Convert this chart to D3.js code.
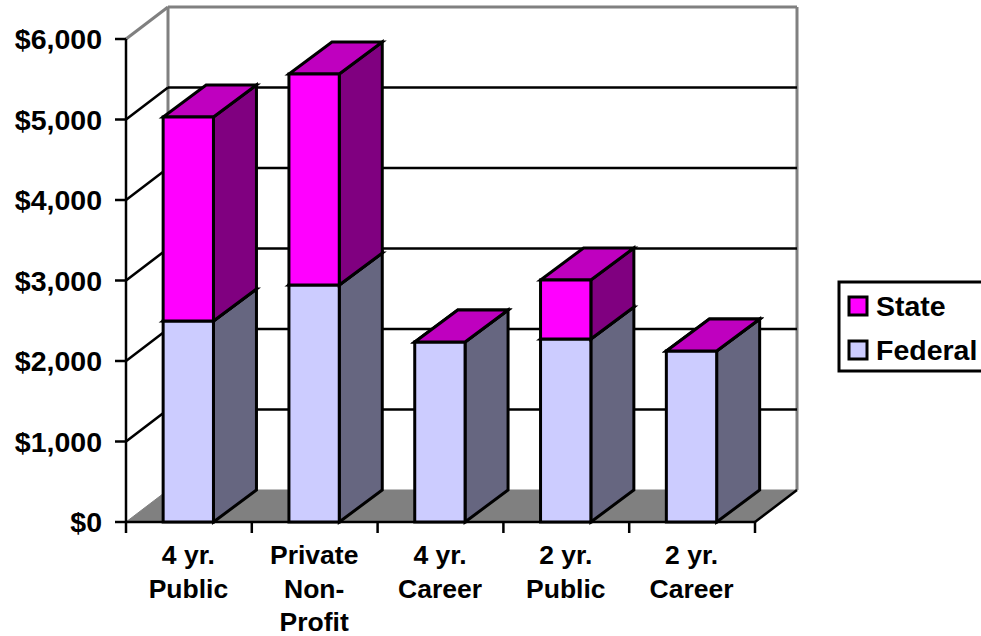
<!DOCTYPE html>
<html><head><meta charset="utf-8">
<style>html,body{margin:0;padding:0;background:#fff}svg{display:block}text{font-family:"Liberation Sans",Arial,sans-serif;font-weight:bold;fill:#000}</style>
<script src="https://cdnjs.cloudflare.com/ajax/libs/d3/7.8.5/d3.min.js"></script>
</head><body><script>
const categories=[["4 yr.","Public"],["Private","Non-","Profit"],["4 yr.","Career"],["2 yr.","Public"],["2 yr.","Career"]];
const federal=[2497,2944,2236,2273,2124];
const state=[2534,2621,0,733,0];
const ticks=[0,1000,2000,3000,4000,5000,6000];
const seriesNames=["State","Federal"];
const W=981,H=636,dx=42,dy=32,barDx=43;
const svg=d3.select("body").append("svg").attr("width",W).attr("height",H);
const L=126,R=755;
const x=d3.scaleBand().domain(d3.range(categories.length)).range([L-0.6,R-0.6]).paddingInner(0.6).paddingOuter(0.3);
const y=d3.scaleLinear().domain([0,6000]).range([522,39]);
const poly=(pts,fill,stroke,sw)=>svg.append("polygon").attr("points",pts.map(p=>p.join(",")).join(" ")).attr("fill",fill).attr("stroke",stroke).attr("stroke-width",sw).attr("stroke-linejoin","miter");
const line=(a,b,c,sw)=>svg.append("line").attr("x1",a[0]).attr("y1",a[1]).attr("x2",b[0]).attr("y2",b[1]).attr("stroke",c).attr("stroke-width",sw);
const Y0=y(0),Yt=y(6000);
// floor
poly([[L,Y0],[L+dx,Y0-dy],[R+dx,Y0-dy],[R,Y0]],"#808080","#808080",1);
// walls
line([L+dx,Yt-dy],[R+dx,Yt-dy],"#808080",3);
line([L,Yt],[L+dx,Yt-dy],"#808080",3);
line([L+dx,Yt-dy],[L+dx,Y0-dy],"#808080",3);
line([R+dx,Yt-dy],[R+dx,Y0-dy],"#808080",3);
// gridlines
ticks.filter(t=>t>0&&t<6000).forEach(t=>{line([L,y(t)],[L+dx,y(t)-dy],"#000",2.5);line([L+dx,y(t)-dy],[R+dx,y(t)-dy],"#000",2.5);});
line([R,Y0],[R+dx,Y0-dy],"#000",2.5);
// axes
line([L,Yt],[L,Y0],"#000",2.5);
line([L,Y0],[R,Y0],"#000",2.5);
ticks.forEach(t=>{line([L-11,y(t)],[L,y(t)],"#000",2.5);
 svg.append("text").attr("x",102).attr("y",y(t)+10).attr("text-anchor","end").attr("font-size",28.5).text(d3.format("$,")(t));});
d3.range(categories.length+1).forEach(i=>{const v=L+(R-L)*i/categories.length;line([v,Y0],[v,Y0+11],"#000",2.5);});
// bars
const seg=(i,a,b,front,top,side)=>{const x0=x(i),x1=x0+x.bandwidth(),ya=y(a),yb=y(b);
 poly([[x1,ya],[x1+barDx,ya-dy],[x1+barDx,yb-dy],[x1,yb]],side,"#000",3);
 poly([[x0,yb],[x1,yb],[x1+barDx,yb-dy],[x0+barDx,yb-dy]],top,"#000",3);
 poly([[x0,ya],[x1,ya],[x1,yb],[x0,yb]],front,"#000",3);};
categories.forEach((c,i)=>{
 seg(i,0,federal[i],"#CCCCFF","#9999BF","#666680");
 if(state[i]>0) seg(i,federal[i],federal[i]+state[i],"#FF00FF","#BF00BF","#800080");
 else { const x0=x(i),x1=x0+x.bandwidth(),yb=y(federal[i]); poly([[x0,yb],[x1,yb],[x1+barDx,yb-dy],[x0+barDx,yb-dy]],"#BF00BF","#000",3);}
 const cx=L+(R-L)*(i+.5)/categories.length;
 c.forEach((t,j)=>svg.append("text").attr("x",cx-0.5).attr("y",[564,597.5,631][j]).attr("text-anchor","middle").attr("font-size",26.5).text(t));
});
// legend
svg.append("rect").attr("x",839).attr("y",282).attr("width",W-839+5).attr("height",89).attr("fill","#fff").attr("stroke","#000").attr("stroke-width",3);
const swatchColors=["#FF00FF","#CCCCFF"];
seriesNames.forEach((s,i)=>{const cy=[306,350][i];
 svg.append("rect").attr("x",849).attr("y",cy-9).attr("width",18).attr("height",18).attr("fill",swatchColors[i]).attr("stroke","#000").attr("stroke-width",3);
 svg.append("text").attr("x",876).attr("y",cy+10).attr("font-size",28.5).text(s);});
</script></body></html>
